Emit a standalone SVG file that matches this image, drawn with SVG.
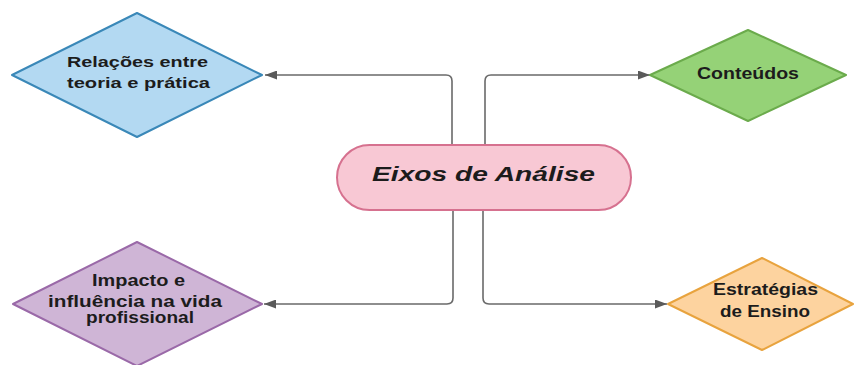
<svg xmlns="http://www.w3.org/2000/svg" width="854" height="365" viewBox="0 0 854 365">
<defs>
<marker id="arr" markerUnits="userSpaceOnUse" markerWidth="12" markerHeight="9" refX="12" refY="4.5" orient="auto">
<path d="M0,0 L12,4.5 L0,9 z" fill="#5a5a5a"/>
</marker>
<style>
.lbl{font-family:"Liberation Sans",Arial,sans-serif;font-weight:bold;fill:#1c1c1c;text-anchor:middle}
.dia{stroke-width:2;stroke-linejoin:round}
.con{fill:none;stroke:#6a6a6a;stroke-width:1.6}
</style>
</defs>
<rect width="854" height="365" fill="#ffffff"/>
<g id="connectors">
<path class="con" d="M452,145 V81 Q452,75 446,75 H265" marker-end="url(#arr)"/>
<path class="con" d="M485,145 V81 Q485,75 491,75 H650" marker-end="url(#arr)"/>
<path class="con" d="M453,210 V298 Q453,304 447,304 H264" marker-end="url(#arr)"/>
<path class="con" d="M483,210 V298 Q483,304 489,304 H667" marker-end="url(#arr)"/>
</g>
<g id="center">
<rect x="337" y="145" width="294" height="65" rx="32.5" fill="#f8c8d4" stroke="#d6718f" stroke-width="2"/>
<text class="lbl" x="483.5" y="181" font-size="20" font-style="italic" textLength="223" lengthAdjust="spacingAndGlyphs">Eixos de Análise</text>
</g>
<g id="relacoes">
<polygon class="dia" points="12,75 137,13 262,75 137,137" fill="#b3d9f2" stroke="#3a88b8"/>
<text class="lbl" x="137.5" y="67" font-size="15.5" textLength="141" lengthAdjust="spacingAndGlyphs">Relações entre</text>
<text class="lbl" x="138.5" y="88" font-size="15.5" textLength="143" lengthAdjust="spacingAndGlyphs">teoria e prática</text>
</g>
<g id="conteudos">
<polygon class="dia" points="650,75 748,30 846,75 748,121" fill="#95d277" stroke="#6bab4c"/>
<text class="lbl" x="748" y="79" font-size="16.5" textLength="102" lengthAdjust="spacingAndGlyphs">Conteúdos</text>
</g>
<g id="impacto">
<polygon class="dia" points="13,304 137,242 262,304 137,366" fill="#cfb5d6" stroke="#9a69a8"/>
<text class="lbl" x="138.5" y="286" font-size="16" textLength="93" lengthAdjust="spacingAndGlyphs">Impacto e</text>
<text class="lbl" x="135" y="307" font-size="16" textLength="174" lengthAdjust="spacingAndGlyphs">influência na vida</text>
<text class="lbl" x="140" y="323" font-size="16" textLength="108" lengthAdjust="spacingAndGlyphs">profissional</text>
</g>
<g id="estrategias">
<polygon class="dia" points="668,304 762,258 853,304 762,350" fill="#fdd39f" stroke="#e8a33e"/>
<text class="lbl" x="765.5" y="295" font-size="16" textLength="105" lengthAdjust="spacingAndGlyphs">Estratégias</text>
<text class="lbl" x="765" y="317" font-size="16" textLength="90" lengthAdjust="spacingAndGlyphs">de Ensino</text>
</g>
</svg>
